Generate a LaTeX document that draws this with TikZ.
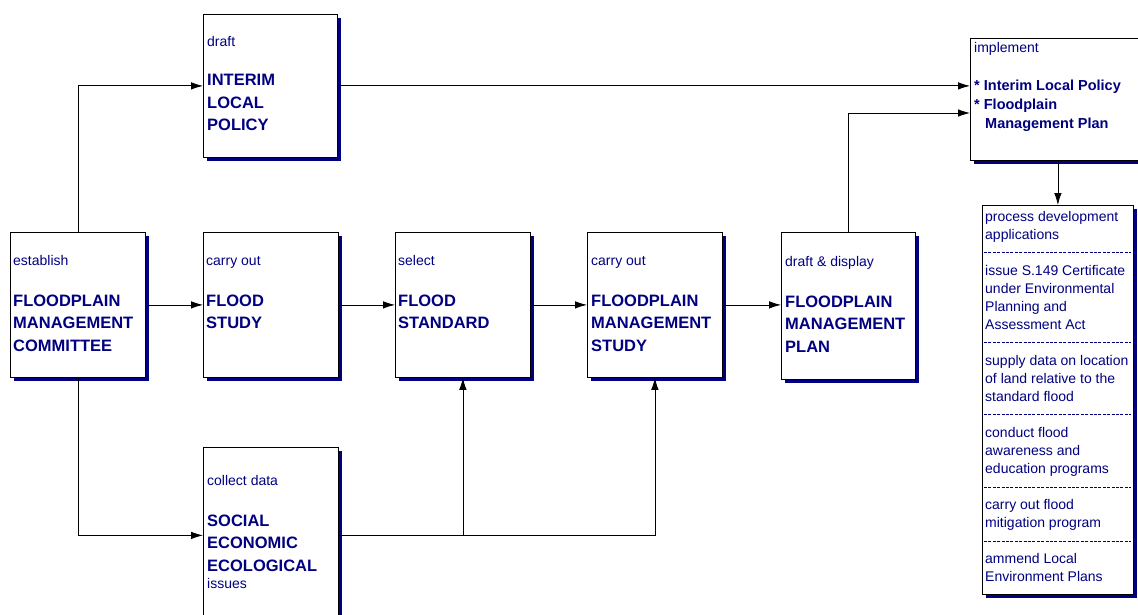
\documentclass[tikz,border=0pt]{standalone}
\usepackage{fontspec}
\setmainfont{Liberation Sans}
\usetikzlibrary{shadows,arrows.meta,calc}
\definecolor{inkblue}{HTML}{000080}
\tikzset{
  box/.style={draw=black, line width=0.8pt, fill=white, anchor=north west,
    inner sep=0pt, drop shadow={shadow xshift=3.5pt, shadow yshift=-3.5pt,
    fill=inkblue, opacity=1}},
  lbl/.style={anchor=base west, inner sep=0pt, text=inkblue,
    font=\fontsize{14}{18}\selectfont, align=left},
  ttl/.style={anchor=base west, inner sep=0pt, text=inkblue,
    font=\fontsize{16.5}{22.5}\selectfont\bfseries, align=left},
  ttlsmall/.style={anchor=base west, inner sep=0pt, text=inkblue,
    font=\fontsize{14.5}{19}\selectfont\bfseries, align=left},
  link/.style={draw=black, line width=0.8pt, -{Latex[length=12pt,width=7.5pt]}},
  sep/.style={draw=inkblue, line width=0.6pt, dash pattern=on 3pt off 1.4pt},
}
\begin{document}
\begin{tikzpicture}[x=1pt,y=-1pt]
\useasboundingbox[fill=white] (0,0) rectangle (1138,615);

% process boxes
\node[box, minimum width=134pt, minimum height=143pt] (interim) at (203,14) {};
\node[box, minimum width=135pt, minimum height=145pt] (fmc) at (10,232) {};
\node[box, minimum width=135pt, minimum height=145pt] (study) at (203,232) {};
\node[box, minimum width=135pt, minimum height=145pt] (standard) at (395,232) {};
\node[box, minimum width=135pt, minimum height=145pt] (fmstudy) at (587,232) {};
\node[box, minimum width=134pt, minimum height=147pt] (fmplan) at (781,232) {};
\node[box, minimum width=135pt, minimum height=176pt] (social) at (203,447) {};
\node[box, minimum width=180pt, minimum height=122pt] (impl) at (970,38) {};
\node[box, minimum width=151pt, minimum height=389pt] (list) at (982,205) {};

% box texts (multi-line nodes are placed by the baseline of their last line)
\node[lbl] (t1a) at (207,47) {draft};
\node[ttl] (t1b) at (207,131) {INTERIM\\LOCAL\\POLICY};
\node[lbl] (t2a) at (13,265) {establish};
\node[ttl] (t2b) at (13,351) {FLOODPLAIN\\MANAGEMENT\\COMMITTEE};
\node[lbl] (t3a) at (206,265) {carry out};
\node[ttl] (t3b) at (206,328.5) {FLOOD\\STUDY};
\node[lbl] (t4a) at (398,265) {select};
\node[ttl] (t4b) at (398,328.5) {FLOOD\\STANDARD};
\node[lbl] (t5a) at (591,265) {carry out};
\node[ttl] (t5b) at (591,351) {FLOODPLAIN\\MANAGEMENT\\STUDY};
\node[lbl] (t6a) at (785,266) {draft \& display};
\node[ttl] (t6b) at (785,352) {FLOODPLAIN\\MANAGEMENT\\PLAN};
\node[lbl] (t7a) at (207,485) {collect data};
\node[ttl] (t7b) at (207,571) {SOCIAL\\ECONOMIC\\ECOLOGICAL};
\node[lbl] (t7c) at (207,588) {issues};
\node[lbl] (t8a) at (974,53) {implement};
\node[ttlsmall] (t8b) at (974,129) {* Interim Local Policy\\* Floodplain\\\hspace*{11pt}Management Plan};

% list of actions
\node[lbl] (l1) at (985,239.5) {process development\\applications};
\node[lbl] (l2) at (985,329.5) {issue S.149 Certificate\\under Environmental\\Planning and\\Assessment Act};
\node[lbl] (l3) at (985,401.5) {supply data on location\\of land relative to the\\standard flood};
\node[lbl] (l4) at (985,473.5) {conduct flood\\awareness and\\education programs};
\node[lbl] (l5) at (985,527.5) {carry out flood\\mitigation program};
\node[lbl] (l6) at (985,581.5) {ammend Local\\Environment Plans};
\foreach \yy in {252,342,414,487,541}
  \draw[sep] (984,\yy) -- (1131,\yy);

% connectors
\draw[link] (fmc.north) |- (interim.west);
\draw[link] (fmc.east) -- (study.west);
\draw[link] (study.east) -- (standard.west);
\draw[link] (standard.east) -- (fmstudy.west);
\draw[link] (fmstudy.east) -- (fmstudy.east -| fmplan.west);
\draw[link] (fmc.south) |- (social.west);
\draw[link] (social.east) -| (standard.south);
\draw[link] (social.east) -| (fmstudy.south);
\draw[link] (interim.east) -- (interim.east -| impl.west);
\draw[link] (fmplan.north) |- ($(impl.north west)+(0,75)$);
\draw[link] (list.north |- impl.south) -- (list.north);
\end{tikzpicture}
\end{document}
